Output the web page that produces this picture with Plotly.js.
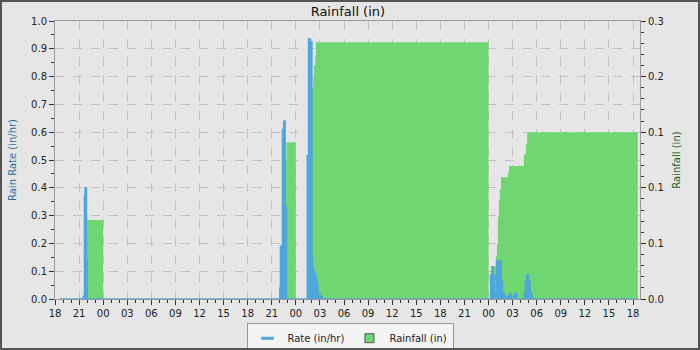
<!DOCTYPE html>
<html>
<head>
<meta charset="utf-8">
<script src="https://cdn.plot.ly/plotly-3.0.1.min.js"></script>
<style>
  html, body { margin: 0; padding: 0; background: #e6e6e6; }
  #wrap { position: relative; width: 700px; height: 350px; }
  #chart { width: 700px; height: 350px; }
  #frame { position: absolute; left: 0; top: 0; width: 700px; height: 350px; box-sizing: border-box; border: 2px solid #555; pointer-events: none; }
</style>
</head>
<body>
<div id="wrap"><div id="chart"></div><div id="frame"></div></div>
<script>
// Rain rate (in/hr) change points (step data)
const rateTimes = [
  '2024-06-01 18:35',
  '2024-06-01 21:30', '2024-06-01 21:40', '2024-06-01 21:45', '2024-06-01 21:55', '2024-06-01 22:00',
  '2024-06-02 22:00', '2024-06-02 22:05', '2024-06-02 22:20', '2024-06-02 22:30', '2024-06-02 22:40', '2024-06-02 22:50',
  '2024-06-03 01:25', '2024-06-03 01:35', '2024-06-03 01:50', '2024-06-03 02:00', '2024-06-03 02:05', '2024-06-03 02:15',
  '2024-06-03 02:30', '2024-06-03 02:35', '2024-06-03 02:45', '2024-06-03 03:00', '2024-06-03 03:15',
  '2024-06-04 00:15', '2024-06-04 00:25', '2024-06-04 00:35', '2024-06-04 00:45', '2024-06-04 01:00', '2024-06-04 01:35',
  '2024-06-04 01:45', '2024-06-04 02:05', '2024-06-04 02:20', '2024-06-04 02:35', '2024-06-04 02:50', '2024-06-04 03:05',
  '2024-06-04 03:15', '2024-06-04 03:30', '2024-06-04 04:25', '2024-06-04 04:35', '2024-06-04 04:45', '2024-06-04 05:00',
  '2024-06-04 05:10', '2024-06-04 05:25', '2024-06-04 18:35'
];
const rateValues = [
  0,
  0.01, 0.37, 0.40, 0.14, 0,
  0.04, 0.19, 0.61, 0.64, 0.33, 0,
  0.515, 0.935, 0.925, 0.15, 0.11, 0.09,
  0.074, 0.056, 0.02, 0.008, 0,
  0.086, 0.116, 0.086, 0.02, 0.137, 0.062,
  0.02, 0, 0.01, 0.02, 0, 0.01,
  0.02, 0, 0.02, 0.062, 0.086, 0.062,
  0.02, 0, 0
];

// Daily accumulated rainfall (in) change points (step data)
const rainTimes = [
  '2024-06-01 18:35',
  '2024-06-01 21:30', '2024-06-01 21:40', '2024-06-01 21:45', '2024-06-01 21:55', '2024-06-01 22:00',
  '2024-06-02 00:00',
  '2024-06-02 22:05', '2024-06-02 22:20', '2024-06-02 22:30', '2024-06-02 22:40', '2024-06-02 22:50',
  '2024-06-03 00:00',
  '2024-06-03 01:30', '2024-06-03 01:40', '2024-06-03 01:50', '2024-06-03 02:00', '2024-06-03 02:10',
  '2024-06-03 02:15', '2024-06-03 02:25', '2024-06-03 02:30',
  '2024-06-04 00:00',
  '2024-06-04 00:15', '2024-06-04 00:35', '2024-06-04 00:55', '2024-06-04 01:03', '2024-06-04 01:10',
  '2024-06-04 01:18', '2024-06-04 01:25', '2024-06-04 01:33', '2024-06-04 02:25', '2024-06-04 02:32',
  '2024-06-04 04:25', '2024-06-04 04:39', '2024-06-04 04:49', '2024-06-04 18:35'
];
const rainValues = [
  0,
  0.001, 0.03, 0.045, 0.065, 0.071,
  0,
  0.005, 0.03, 0.08, 0.125, 0.141,
  0,
  0.04, 0.11, 0.17, 0.189, 0.199,
  0.21, 0.219, 0.231,
  0,
  0.01, 0.0295, 0.039, 0.0495, 0.074,
  0.089, 0.099, 0.1095, 0.1135, 0.1195,
  0.13, 0.139, 0.15, 0.15
];

const rightTickVals = [0, 0.05, 0.10, 0.15, 0.20, 0.25];
const rightTickText = ['0.0', '0.1', '0.1', '0.1', '0.2', '0.3'];

const BLUE = '#4ea6dc';
const GREEN = '#6fd672';

const traces = [
  {
    name: 'Rainfall (in)', x: rainTimes, y: rainValues, yaxis: 'y',
    type: 'scatter', mode: 'lines', line: {shape: 'hv', width: 0, color: GREEN},
    fill: 'tozeroy', fillcolor: GREEN, showlegend: false, hoverinfo: 'skip'
  },
  {
    name: 'Rate (in/hr)', x: rateTimes, y: rateValues, yaxis: 'y2',
    type: 'scatter', mode: 'lines', line: {shape: 'hv', width: 1.5, color: BLUE},
    fill: 'tozeroy', fillcolor: BLUE, showlegend: false, hoverinfo: 'skip'
  },
  {
    name: 'Rate (in/hr)', x: [null], y: [null], yaxis: 'y2', type: 'scatter', mode: 'markers',
    marker: {symbol: 'line-ew-open', size: 9, color: BLUE, line: {color: BLUE, width: 3}}, legendrank: 1
  },
  {
    name: 'Rainfall (in)', x: [null], y: [null], yaxis: 'y', type: 'scatter', mode: 'markers',
    marker: {symbol: 'square', size: 9, color: GREEN, line: {color: '#555', width: 1}}, legendrank: 2
  }
];

const axisFont = {family: 'DejaVu Sans', size: 10, color: '#222'};

const layout = {
  width: 700, height: 350,
  margin: {l: 55, r: 60, t: 21, b: 51},
  paper_bgcolor: '#e6e6e6', plot_bgcolor: '#e6e6e6',
  font: {family: 'DejaVu Sans', size: 10, color: '#222'},
  title: {text: 'Rainfall (in)', font: {family: 'DejaVu Sans', size: 13, color: '#111'}, x: 0.497, xanchor: 'center', y: 0.968, yanchor: 'middle'},
  showlegend: true,
  legend: {
    orientation: 'h', x: 0.5, xanchor: 'center', xref: 'container',
    y: 0.078, yanchor: 'top', yref: 'container',
    bgcolor: '#f4f4f4', bordercolor: '#999', borderwidth: 1,
    font: {family: 'DejaVu Sans', size: 10, color: '#222'}, itemwidth: 30
  },
  xaxis: {
    type: 'date', range: ['2024-06-01 18:00', '2024-06-04 18:52'],
    tickformat: '%H', dtick: 3 * 3600000, tick0: '2024-06-01 00:00',
    ticks: 'outside', ticklen: 5, tickcolor: '#333', tickfont: axisFont,
    showline: true, linecolor: '#999', linewidth: 1, mirror: true,
    showgrid: true, gridcolor: '#c2c2c2', griddash: 'dash', gridwidth: 1,
    minor: {dtick: 3600000, tick0: '2024-06-01 00:00', ticks: 'outside', ticklen: 3, tickcolor: '#333', showgrid: false},
    zeroline: false, fixedrange: true
  },
  yaxis: {
    side: 'right', range: [0, 0.25],
    tickmode: 'array', tickvals: rightTickVals, ticktext: rightTickText,
    ticks: 'outside', ticklen: 5, tickcolor: '#333', tickfont: axisFont,
    showline: true, linecolor: '#999', linewidth: 1,
    showgrid: false, zeroline: false,
    minor: {dtick: 0.01, tick0: 0, ticks: 'outside', ticklen: 3, tickcolor: '#333', showgrid: false},
    title: {text: 'Rainfall (in)', font: {family: 'DejaVu Sans', size: 10, color: '#1c661c'}, standoff: 10}
  },
  yaxis2: {
    overlaying: 'y', side: 'left', range: [0, 1],
    dtick: 0.1, tick0: 0, tickformat: '.1f',
    ticks: 'outside', ticklen: 5, tickcolor: '#333', tickfont: axisFont,
    showline: true, linecolor: '#999', linewidth: 1,
    showgrid: true, gridcolor: '#c2c2c2', griddash: 'dash', gridwidth: 1,
    zeroline: false,
    minor: {dtick: 0.05, tick0: 0, ticks: 'outside', ticklen: 3, tickcolor: '#333', showgrid: false},
    title: {text: 'Rain Rate (in/hr)', font: {family: 'DejaVu Sans', size: 10, color: '#1d6fa5'}, standoff: 12}
  }
};

Plotly.newPlot('chart', traces, layout, {staticPlot: true, displayModeBar: false});
</script>
</body>
</html>
